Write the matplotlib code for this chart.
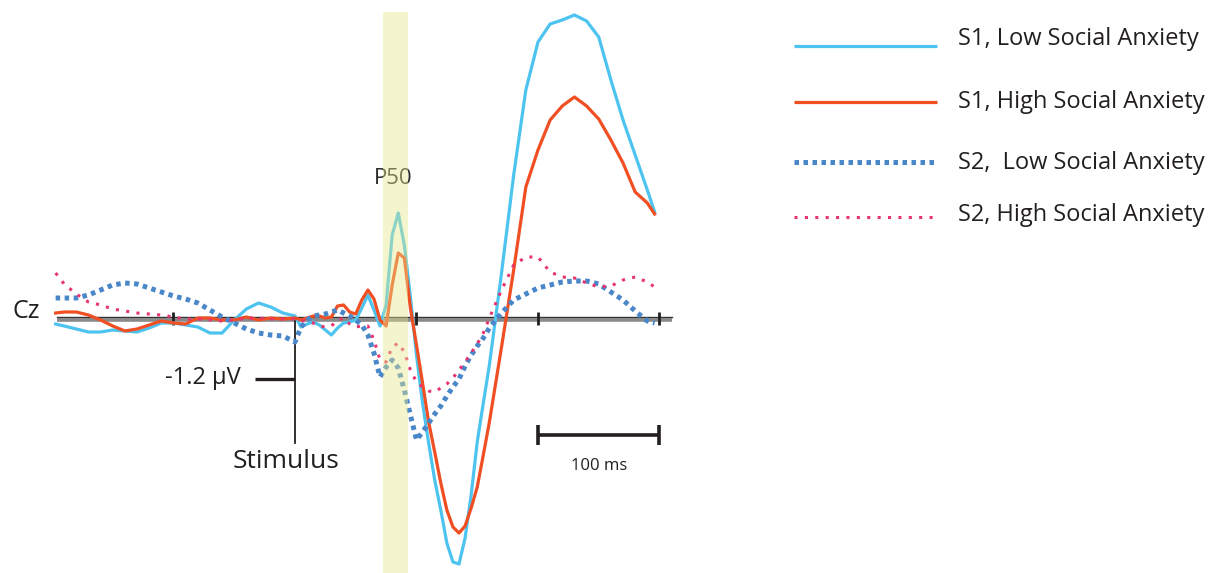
import matplotlib.pyplot as plt

plt.rcParams['font.family'] = ['Open Sans', 'DejaVu Sans']

# time axis (ms relative to stimulus)
time_ms = [-197, -190, -180, -170, -160, -150, -140, -130, -120, -110, -100,
           -90, -80, -70, -60, -50, -40, -30, -20, -10, 0,
           5, 10, 15, 20, 25, 30, 35, 40, 45, 50, 55, 60, 65, 70, 75, 80,
           85, 90, 95, 100, 105, 110, 115, 120, 125, 130, 135, 140, 145,
           150, 155, 160,
           170, 180, 190, 200, 210, 220, 230, 240, 250, 260, 270, 280, 290, 296]

# amplitudes in microvolts
s1_low = [-0.12, -0.16, -0.22, -0.28, -0.28, -0.24, -0.26, -0.28, -0.20, -0.10, -0.10,
          -0.14, -0.18, -0.30, -0.30, -0.04, 0.18, 0.30, 0.22, 0.10, 0.04,
          -0.18, -0.12, -0.08, -0.14, -0.24, -0.34, -0.20, -0.10, -0.08, -0.04,
          0.20, 0.46, 0.16, -0.16, 0.26, 1.66, 2.10, 1.46, 0.42, -0.74,
          -1.70, -2.50, -3.24, -3.84, -4.50, -4.88, -4.92, -4.40, -3.54, -2.48,
          -1.70, -0.94,
          0.90, 2.86, 4.56, 5.52, 5.88, 5.96, 6.06, 5.94, 5.62, 4.76, 3.96,
          3.26, 2.56, 2.12]

s1_high = [0.10, 0.12, 0.12, 0.06, -0.04, -0.16, -0.26, -0.22, -0.14, -0.06, -0.10,
           -0.12, 0.00, 0.00, -0.04, -0.04, 0.02, -0.04, 0.00, -0.02, 0.00,
           -0.04, 0.00, 0.04, 0.04, 0.00, 0.02, 0.24, 0.26, 0.12, 0.08,
           0.36, 0.56, 0.38, -0.04, -0.16, 0.66, 1.30, 1.20, 0.20, -0.54,
           -1.30, -2.08, -2.68, -3.30, -3.84, -4.18, -4.30, -4.16, -3.80, -3.38,
           -2.74, -2.08,
           -0.58, 0.96, 2.62, 3.36, 3.96, 4.24, 4.42, 4.24, 3.98, 3.56, 3.10,
           2.52, 2.30, 2.08]

s2_low = [0.40, 0.40, 0.40, 0.46, 0.56, 0.66, 0.70, 0.68, 0.60, 0.52, 0.44,
          0.38, 0.30, 0.16, 0.02, -0.10, -0.22, -0.30, -0.34, -0.36, -0.48,
          -0.18, -0.04, 0.04, 0.06, 0.08, 0.12, 0.16, 0.10, 0.04, -0.04,
          -0.14, -0.34, -0.70, -1.18, -0.98, -0.84, -1.00, -1.44, -1.94, -2.44,
          -2.28, -2.10, -1.92, -1.76, -1.56, -1.38, -1.22, -0.96, -0.74, -0.56,
          -0.40, -0.20,
          0.10, 0.36, 0.48, 0.60, 0.66, 0.72, 0.74, 0.74, 0.68, 0.52, 0.36,
          0.14, -0.06, -0.10]

s2_high = [0.90, 0.68, 0.48, 0.32, 0.26, 0.18, 0.14, 0.10, 0.08, 0.06, 0.02,
           -0.02, -0.02, -0.04, -0.06, -0.04, 0.00, 0.00, -0.02, -0.02, -0.02,
           -0.04, -0.08, -0.10, -0.16, -0.18, -0.16, -0.04, 0.00, -0.12, -0.18,
           -0.16, -0.16, -0.44, -0.84, -0.88, -0.58, -0.50, -0.68, -1.04, -1.28,
           -1.38, -1.46, -1.48, -1.40, -1.32, -1.20, -1.04, -0.88, -0.70, -0.52,
           -0.30, 0.00,
           0.56, 1.06, 1.22, 1.22, 0.92, 0.82, 0.80, 0.70, 0.62, 0.64, 0.76,
           0.82, 0.72, 0.62]

labels = ['S1, Low Social Anxiety', 'S1, High Social Anxiety',
          'S2,  Low Social Anxiety', 'S2, High Social Anxiety']
series = [s1_low, s1_high, s2_low, s2_high]
colors = ['#4DC4F0', '#F04E23', '#4A87C9', '#E8336E']
widths = [2.3, 2.3, 3.6, 2.2]
styles = ['-', '-', (0, (0.9, 0.9)), (0, (1.0, 2.4))]

p50_window = (72.4, 93.0)
time_ticks = [-100, 100, 200, 300]
text_color = '#231F20'

fig = plt.figure(figsize=(12.22, 5.73), dpi=100)
ax = fig.add_axes([0, 0, 1, 1])
ax.set_xlim(-242.8, 763.0)
ax.set_ylim(-5.1, 6.36)
ax.axis('off')

# baseline axis
ax.plot([-196, 310], [-0.03, -0.03], color='#8A8A8A', lw=2.6, zorder=1,
        solid_capstyle='butt')
ax.plot([-196, 310], [0.02, 0.02], color='#333333', lw=1.0, zorder=1.1)
for t in time_ticks:
    ax.plot([t, t], [0.13, -0.13], color='#231F20', lw=2.0, zorder=1.2,
            solid_capstyle='butt')

# stimulus line and amplitude scale
ax.plot([0, 0], [0, -2.5], color='#231F20', lw=1.3, zorder=1.2)
ax.plot([-33, 0], [-1.22, -1.22], color='#231F20', lw=2.4, zorder=1.2,
        solid_capstyle='butt')
ax.text(-45, -1.2, '-1.2 µV', ha='right', va='center', fontsize=17,
        color=text_color)
ax.text(-7, -2.88, 'Stimulus', ha='center', va='center', fontsize=19,
        color=text_color)
ax.text(-210, 0.12, 'Cz', ha='right', va='center', fontsize=18,
        color=text_color)

for vals, c, w, ls in zip(series, colors, widths, styles):
    ax.plot(time_ms, vals, color=c, lw=w, linestyle=ls, zorder=2,
            dash_capstyle='butt', solid_joinstyle='round')

# P50 window
ax.fill_between(p50_window, -5.1, 6.12, color='#E8E88A', alpha=0.42, lw=0,
                zorder=3)
ax.text(81, 2.8, 'P50', ha='center', va='center', fontsize=16,
        color='#2A2A2A', zorder=2.5)

# time scale bar
ax.plot([200, 300], [-2.34, -2.34], color='#231F20', lw=2.6, zorder=1.2,
        solid_capstyle='butt')
for t in (200, 300):
    ax.plot([t, t], [-2.14, -2.54], color='#231F20', lw=2.6, zorder=1.2,
            solid_capstyle='butt')
ax.text(250, -2.96, '100 ms', ha='center', va='center', fontsize=12,
        color=text_color)

# legend drawn by hand on the right
leg_y = [0.920, 0.822, 0.717, 0.621]
text_y = [0.9319, 0.8220, 0.7155, 0.6248]
for lab, c, w, ls, yy, ty in zip(labels, colors, widths, styles, leg_y, text_y):
    ax.plot([0.650, 0.767], [yy, yy], transform=ax.transAxes, color=c, lw=w,
            linestyle=ls, dash_capstyle='butt', solid_capstyle='butt')
    ax.text(0.784, ty, lab, transform=ax.transAxes, ha='left',
            va='center', fontsize=17, color=text_color)

fig.savefig('out.png', dpi=100)
